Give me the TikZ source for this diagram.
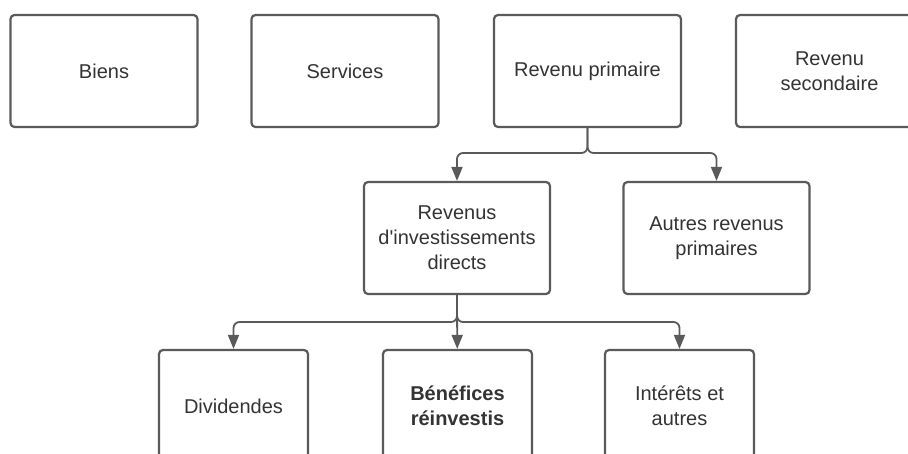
\documentclass[tikz,border=0pt]{standalone}
\usepackage{fontspec}
\setmainfont{Liberation Sans}[Ligatures=TeXOff]
\usetikzlibrary{arrows.meta}
\definecolor{boxgray}{HTML}{5A5A5A}
\definecolor{textgray}{HTML}{333333}

\begin{document}
\begin{tikzpicture}[x=1pt,y=-1pt,
    link/.style={draw=boxgray,line width=1.8pt,rounded corners=6pt,
      -{Triangle[length=14pt,width=11pt]}}]
        \useasboundingbox (0,0) rectangle (908,453);
        \clip (0,0) rectangle (908,453);
        \begin{scope}[every node/.style={draw=boxgray,line width=2.2pt,rounded corners=4pt,
            minimum width=187pt,minimum height=112pt,inner sep=0pt,align=center,
            text=textgray,font=\fontsize{20}{25}\selectfont}]
          \node (biens) at (104,71) {Biens};
          \node (serv) at (345,71) {Services};
          \node (prim) at (587.5,71) {Revenu primaire};
          \node (second) at (829.5,71) {Revenu\\secondaire};
          \node[minimum width=186pt] (invd) at (457,238) {Revenus\\d'investissements\\directs};
          \node[minimum width=186pt] (autres) at (716.5,238) {Autres revenus\\primaires};
          \node[minimum width=149pt] (divid) at (233.5,406) {Dividendes};
          \node[minimum width=149pt] (benef) at (457.5,406) {\bfseries Bénéfices\\\bfseries réinvestis};
          \node[minimum width=149pt] (inter) at (679.5,406) {Intérêts et\\autres};
        \end{scope}
        \coordinate (split1) at (587.5,153);
        \coordinate (split2) at (457,322);
        \begin{scope}
          \draw[link] (prim.south) -- (split1) -| (invd);
          \draw[link] (prim.south) -- (split1) -| (autres);
          \draw[link] (invd.south) -- (split2) -| (divid);
          \draw[link] (invd.south) -- (benef);
          \draw[link] (invd.south) -- (split2) -| (inter);
        \end{scope}
\end{tikzpicture}
\end{document}
